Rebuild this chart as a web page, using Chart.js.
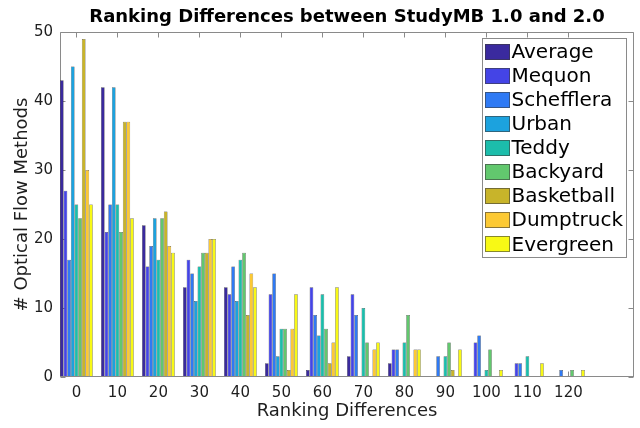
<!DOCTYPE html>
<html>
<head>
<meta charset="utf-8">
<script src="https://cdn.jsdelivr.net/npm/chart.js@4/dist/chart.umd.min.js"></script>
<style>
  html, body { margin: 0; padding: 0; background: #ffffff; }
  #wrap { width: 640px; height: 428px; }
</style>
</head>
<body>
<div id="wrap"><canvas id="chart" width="640" height="428"></canvas></div>
<script>
// Ranking difference bins (x) and counts of optical flow methods per dataset
const categories = [0, 10, 20, 30, 40, 50, 60, 70, 80, 90, 100, 110, 120];
const yTicks = [0, 10, 20, 30, 40, 50];

const average    = [43, 42, 22, 13, 13,  2,  1,  3, 2, 0, 0, 0, 0];
const mequon     = [27, 21, 16, 17, 12, 12, 13, 12, 4, 0, 5, 2, 0];
const schefflera = [17, 25, 19, 15, 16, 15,  9,  9, 4, 3, 6, 2, 1];
const urban      = [45, 42, 23, 11, 11,  3,  6,  0, 0, 0, 0, 0, 0];
const teddy      = [25, 25, 17, 16, 17,  7, 12, 10, 5, 3, 1, 3, 0];
const backyard   = [23, 21, 23, 18, 18,  7,  7,  5, 9, 5, 4, 0, 1];
const basketball = [49, 37, 24, 18,  9,  1,  2,  0, 0, 1, 0, 0, 0];
const dumptruck  = [30, 37, 19, 20, 15,  7,  5,  4, 4, 0, 0, 0, 0];
const evergreen  = [25, 23, 18, 20, 13, 12, 13,  5, 4, 4, 1, 2, 1];

const seriesNames = ['Average', 'Mequon', 'Schefflera', 'Urban', 'Teddy',
                     'Backyard', 'Basketball', 'Dumptruck', 'Evergreen'];
const seriesValues = [average, mequon, schefflera, urban, teddy,
                      backyard, basketball, dumptruck, evergreen];
const seriesColors = ['#3a2a9e', '#4444e6', '#2f7af4', '#1ca2de', '#1cbdab',
                      '#62c86e', '#c8b42a', '#fcc934', '#f8f915'];

const datasets = seriesNames.map((name, i) => ({
  label: name,
  data: categories.map((c, j) => ({ x: c, y: seriesValues[i][j] })),
  backgroundColor: seriesColors[i],
  borderColor: '#2e2e2e',
  borderWidth: 0.5,
  inflateAmount: 0,
  barPercentage: 1.0,
  categoryPercentage: 0.8
}));

const FRAME = '#8a8a8a';
const TEXT = '#1e1e1e';

// Box around the plot with inward-pointing ticks on all four sides
const axisFrame = {
  id: 'axisFrame',
  beforeDatasetsDraw(chart) {
    const { ctx, chartArea: a, scales: { x, y } } = chart;
    const L = Math.round(a.left) + 0.5, R = Math.round(a.right) - 0.5;
    const T = Math.round(a.top) + 0.5, B = Math.round(a.bottom) - 0.5;
    ctx.save();
    ctx.strokeStyle = FRAME;
    ctx.lineWidth = 1;
    ctx.beginPath();
    ctx.rect(L, T, R - L, B - T);
    categories.forEach(v => {
      const px = Math.round(x.getPixelForValue(v)) + 0.5;
      ctx.moveTo(px, T); ctx.lineTo(px, T + 5);
      ctx.moveTo(px, B); ctx.lineTo(px, B - 5);
    });
    yTicks.forEach(v => {
      const py = Math.round(y.getPixelForValue(v)) + 0.5;
      ctx.moveTo(L, py); ctx.lineTo(L + 5, py);
      ctx.moveTo(R, py); ctx.lineTo(R - 5, py);
    });
    ctx.stroke();
    ctx.restore();
  },
  afterDatasetsDraw(chart) {
    const { ctx, chartArea: a } = chart;
    const B = Math.round(a.bottom) - 0.5;
    ctx.save();
    ctx.strokeStyle = FRAME;
    ctx.lineWidth = 1;
    ctx.beginPath();
    ctx.moveTo(Math.round(a.left), B);
    ctx.lineTo(Math.round(a.right), B);
    ctx.stroke();
    ctx.restore();
  }
};

// Legend box placed inside the upper right corner of the plot
const insideLegend = {
  id: 'insideLegend',
  afterDraw(chart) {
    const { ctx, chartArea: a } = chart;
    const boxW = 144, boxH = 219;
    const bx = Math.round(a.right) - 8 - boxW + 0.5;
    const by = Math.round(a.top) + 6 + 0.5;
    const rowH = 24.1;
    ctx.save();
    ctx.fillStyle = '#ffffff';
    ctx.fillRect(bx, by, boxW, boxH);
    ctx.strokeStyle = FRAME;
    ctx.lineWidth = 1;
    ctx.strokeRect(bx, by, boxW, boxH);
    ctx.font = '20px "DejaVu Sans"';
    ctx.textBaseline = 'middle';
    ctx.textAlign = 'left';
    chart.data.datasets.forEach((ds, i) => {
      const cy = by + 13 + rowH * i;
      const sx = bx + 2.5, sw = 25, sh = 16;
      ctx.fillStyle = ds.backgroundColor;
      ctx.fillRect(Math.round(sx), Math.round(cy - sh / 2), sw, sh);
      ctx.strokeStyle = 'rgba(60,60,60,0.6)';
      ctx.strokeRect(Math.round(sx) + 0.5, Math.round(cy - sh / 2) + 0.5, sw - 1, sh - 1);
      ctx.fillStyle = '#000000';
      ctx.fillText(ds.label, bx + 29, cy + 1);
    });
    ctx.restore();
  }
};

new Chart(document.getElementById('chart'), {
  type: 'bar',
  data: { datasets },
  plugins: [axisFrame, insideLegend],
  options: {
    responsive: false,
    animation: false,
    layout: { padding: { left: 0, right: 6, top: 0, bottom: 0 } },
    plugins: {
      legend: { display: false },
      tooltip: { enabled: false },
      title: {
        display: true,
        fullSize: false,
        text: 'Ranking Differences between StudyMB 1.0 and 2.0',
        color: '#000000',
        font: { family: '"DejaVu Sans"', size: 18, weight: 'bold' },
        padding: { top: 7, bottom: 3.4 }
      }
    },
    scales: {
      x: {
        type: 'linear',
        offset: false,
        min: -4,
        max: 136,
        grid: { display: false, drawTicks: false },
        border: { display: false },
        afterBuildTicks(scale) {
          scale.ticks = categories.map(v => ({ value: v }));
        },
        afterFit(scale) { scale.height = 51; },
        ticks: {
          color: TEXT,
          padding: 7,
          maxRotation: 0,
          autoSkip: false,
          font: { family: '"DejaVu Sans"', size: 15 }
        },
        title: {
          display: true,
          text: 'Ranking Differences',
          color: TEXT,
          font: { family: '"DejaVu Sans"', size: 18 },
          padding: { top: 0, bottom: 6 }
        }
      },
      y: {
        min: 0,
        max: 50,
        grid: { display: false, drawTicks: false },
        border: { display: false },
        afterBuildTicks(scale) {
          scale.ticks = yTicks.map(v => ({ value: v }));
        },
        afterFit(scale) { scale.width = 60; },
        ticks: {
          color: TEXT,
          padding: 7,
          font: { family: '"DejaVu Sans"', size: 15 }
        },
        title: {
          display: true,
          text: '# Optical Flow Methods',
          color: TEXT,
          font: { family: '"DejaVu Sans"', size: 18 },
          padding: { top: 12, bottom: 0 }
        }
      }
    }
  }
});
</script>
</body>
</html>
